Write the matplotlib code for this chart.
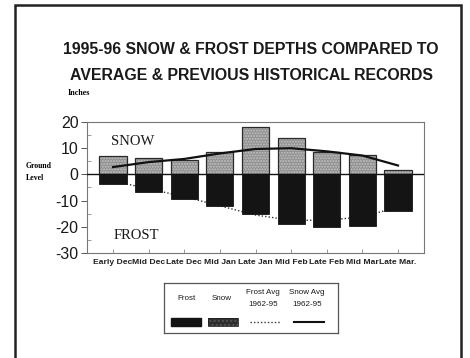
import matplotlib
matplotlib.use('Agg')
from matplotlib import pyplot as plt
from matplotlib.patches import Rectangle
from matplotlib.lines import Line2D
from matplotlib.ticker import FuncFormatter
import numpy as np

# DATA (inches)
periods = ["Early Dec", "Mid Dec", "Late Dec", "Mid Jan", "Late Jan",
           "Mid Feb", "Late Feb", "Mid Mar", "Late Mar."]
snow = [7, 6.3, 5.5, 8.5, 18, 14, 8.7, 7.4, 1.5]
frost = [-3.5, -6.7, -9.2, -12, -15, -19, -20, -19.7, -14]
snow_avg = [2.8, 4.7, 5.9, 8, 9.7, 10, 8.8, 7.2, 3.4]
frost_avg = [-2.5, -5.5, -8.5, -12, -15.5, -17.5, -17.5, -16.2, -12.5]

SANS = 'Liberation Sans'
SERIF = 'Liberation Serif'

fig = plt.figure(figsize=(4.7, 3.58), dpi=100)

# outer frame of the page
fig.patches.append(Rectangle((15 / 470, -0.02), 446 / 470, 1 - 5 / 358 + 0.02,
                             transform=fig.transFigure, fill=False,
                             edgecolor='#222222', linewidth=1.8))

fig.text(251 / 470, 1 - 49 / 358, "1995-96 SNOW & FROST DEPTHS COMPARED TO",
         ha='center', va='center', fontsize=11.4, fontweight='bold', family=SANS,
         color='#1a1a1a')
fig.text(252 / 470, 1 - 75 / 358, "AVERAGE & PREVIOUS HISTORICAL RECORDS",
         ha='center', va='center', fontsize=11.4, fontweight='bold', family=SANS,
         color='#1a1a1a')
fig.text(68 / 470, 1 - 93 / 358, "Inches", ha='left', va='center',
         fontsize=5.8, fontweight='bold', family=SERIF)
fig.text(26 / 470, 1 - 166 / 358, "Ground", ha='left', va='center',
         fontsize=5.6, fontweight='bold', family=SERIF)
fig.text(26 / 470, 1 - 178 / 358, "Level", ha='left', va='center',
         fontsize=5.6, fontweight='bold', family=SERIF)

# MAIN AXES
ax = fig.add_axes([87 / 470, 1 - 253 / 358, 337 / 470, 131 / 358])
x = np.arange(len(periods))
w = 0.76

ax.plot(x, frost_avg, color='#333333', linestyle=(0, (1, 1.5)), linewidth=1, zorder=1)
ax.bar(x, frost, width=w, color='#141414', edgecolor='#141414', linewidth=0.6, zorder=2)
ax.bar(x, snow, width=w, color='#8f8f8f', edgecolor='#c4c4c4', hatch='......',
       linewidth=0, zorder=2)
ax.bar(x, snow, width=w, fill=False, edgecolor='#2a2a2a', linewidth=0.9, zorder=3)
ax.axhline(0, color='#111111', linewidth=1, zorder=4)
ax.plot(x, snow_avg, color='#111111', linewidth=1.6, zorder=5)

ax.set_xlim(-0.73, len(periods) - 1 + 0.73)
ax.set_ylim(-30, 20)
ax.set_yticks([20, 10, 0, -10, -20, -30])
ax.set_yticks(np.arange(-25, 20, 5), minor=True)
ax.yaxis.set_major_formatter(FuncFormatter(lambda v, p: "%d" % v))
ax.set_xticks(x)
ax.set_xticklabels(periods, fontsize=6.1, fontweight='bold', family=SANS,
                   color='#222222')
for lab in ax.get_yticklabels():
    lab.set_family(SANS)
    lab.set_fontsize(11.5)
    lab.set_color('#1a1a1a')
ax.tick_params(axis='y', which='major', direction='out', length=4, width=0.7,
               color='#555555', pad=2)
ax.tick_params(axis='y', which='minor', direction='in', length=3, width=0.6,
               color='#888888')
ax.tick_params(axis='x', direction='in', length=3, width=0.6, color='#888888', pad=4)
for s in ax.spines.values():
    s.set_color('#777777')
    s.set_linewidth(0.8)

ax.text(0.07, 0.85, "SNOW", transform=ax.transAxes, fontsize=10.5,
        family=SERIF, ha='left', va='center', color='#1a1a1a')
ax.text(0.08, 0.135, "FROST", transform=ax.transAxes, fontsize=10.5,
        family=SERIF, ha='left', va='center', color='#1a1a1a')

# LEGEND (custom box: labels above the keys)
lg = fig.add_axes([164 / 470, 1 - 333 / 358, 174 / 470, 50 / 358])
lg.set_xlim(0, 174)
lg.set_ylim(0, 50)
lg.set_xticks([])
lg.set_yticks([])
for s in lg.spines.values():
    s.set_color('#555555')
    s.set_linewidth(0.9)

kw = dict(ha='center', va='center', fontsize=5.8, family=SANS, color='#1a1a1a')
lg.text(22, 35, "Frost", **kw)
lg.text(58, 35, "Snow", **kw)
lg.text(99, 41, "Frost Avg", **kw)
lg.text(99, 28, "1962-95", **kw)
lg.text(143, 41, "Snow Avg", **kw)
lg.text(143, 28, "1962-95", **kw)
lg.add_patch(Rectangle((7, 7), 30, 8, facecolor='#141414', edgecolor='#141414'))
lg.add_patch(Rectangle((44, 7), 30, 8, facecolor='#2e2e2e', edgecolor='#555555',
                       hatch='....', linewidth=0))
lg.add_patch(Rectangle((44, 7), 30, 8, fill=False, edgecolor='#222222', linewidth=0.6))
lg.add_line(Line2D([86, 116], [11, 11], color='#333333', linestyle=(0, (1, 1.5)), linewidth=1))
lg.add_line(Line2D([130, 160], [11, 11], color='#111111', linewidth=1.5))

fig.savefig("out.png", dpi=100)
